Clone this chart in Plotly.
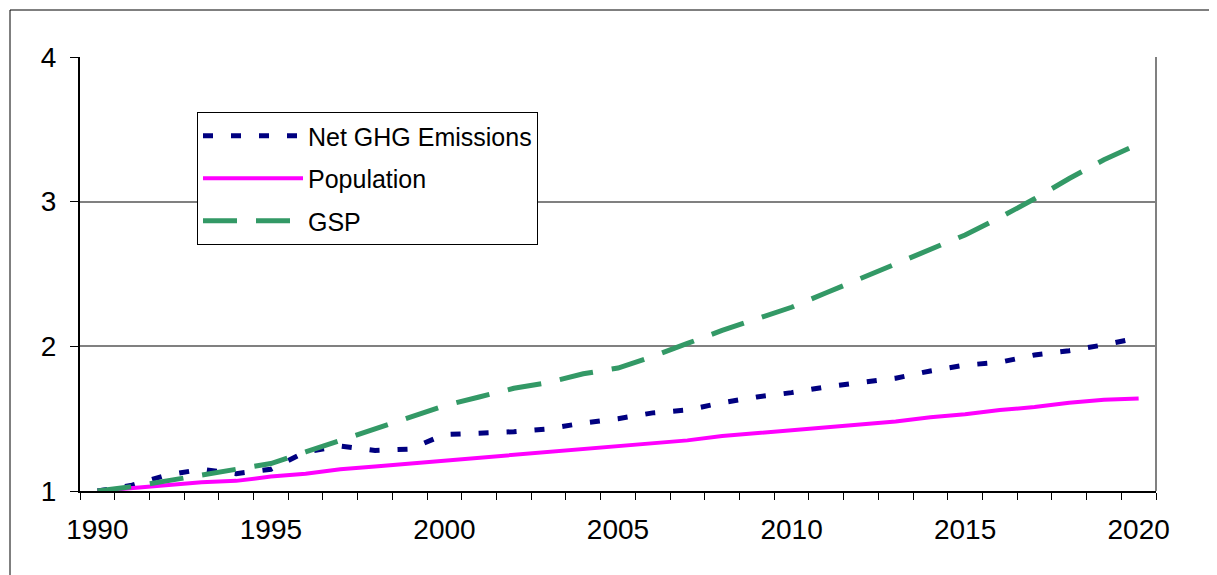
import plotly.graph_objects as go

years = list(range(1990, 2021))

net_ghg = [1.00, 1.04, 1.11, 1.15, 1.12, 1.15, 1.27, 1.31, 1.28, 1.29,
           1.39, 1.40, 1.41, 1.43, 1.47, 1.50, 1.54, 1.56, 1.61, 1.65,
           1.68, 1.72, 1.75, 1.78, 1.83, 1.87, 1.89, 1.94, 1.97, 2.01, 2.06]

population = [1.00, 1.02, 1.04, 1.06, 1.07, 1.10, 1.12, 1.15, 1.17, 1.19,
              1.21, 1.23, 1.25, 1.27, 1.29, 1.31, 1.33, 1.35, 1.38, 1.40,
              1.42, 1.44, 1.46, 1.48, 1.51, 1.53, 1.56, 1.58, 1.61, 1.63, 1.64]

gsp = [1.00, 1.03, 1.07, 1.11, 1.15, 1.19, 1.27, 1.35, 1.43, 1.51,
       1.59, 1.65, 1.71, 1.75, 1.81, 1.85, 1.93, 2.02, 2.11, 2.19,
       2.27, 2.37, 2.47, 2.57, 2.67, 2.77, 2.89, 3.02, 3.16, 3.29, 3.40]

x_tick_vals = [1990, 1995, 2000, 2005, 2010, 2015, 2020]
x_tick_text = ["1990", "1995", "2000", "2005", "2010", "2015", "2020"]
y_tick_vals = [1, 2, 3, 4]
y_tick_text = ["1", "2", "3", "4"]

FONT = "Arial, Liberation Sans, sans-serif"

fig = go.Figure()
fig.add_trace(go.Scatter(x=years, y=net_ghg, name="Net GHG Emissions", mode="lines",
                         legendgroup="a",
                         line=dict(color="#000080", width=5, dash="10px,18px")))
fig.add_trace(go.Scatter(x=years, y=population, name="Population", mode="lines",
                         legendgroup="b",
                         line=dict(color="#FF00FF", width=4)))
fig.add_trace(go.Scatter(x=years, y=gsp, name="GSP", mode="lines",
                         legendgroup="c",
                         line=dict(color="#339966", width=5, dash="34px,19px")))

# page has an 8px body margin; target plot area in page pixels: x 80..1156, y 57..491
OFF = 8
W, H = 1217 - OFF, 575 - OFF
L, T = 80 - OFF, 57 - OFF
R = (OFF + W) - 1156
B = (OFF + H) - 491
pw, ph = W - L - R, H - T - B

def px_x(p):
    return (p - OFF - L) / pw

def px_y(p):
    return (OFF + H - B - p) / ph

shapes = [
    # right border of plot area (gray)
    dict(type="line", xref="paper", yref="paper", x0=1, x1=1, y0=0, y1=1,
         line=dict(color="#808080", width=2)),
    # outer chart frame
    dict(type="rect", xref="paper", yref="paper",
         x0=px_x(10), x1=px_x(1230), y0=px_y(10), y1=px_y(600),
         line=dict(color="black", width=1), layer="below"),
]

fig.update_layout(
    width=W, height=H,
    margin=dict(l=L, r=R, t=T, b=B),
    paper_bgcolor="white", plot_bgcolor="white",
    font=dict(family=FONT, color="black", size=25),
    shapes=shapes,
    showlegend=True,
    legend=dict(
        x=px_x(197), y=px_y(112), xanchor="left", yanchor="top",
        bgcolor="white", bordercolor="black", borderwidth=1,
        font=dict(family=FONT, size=25, color="black"),
        tracegroupgap=7, itemwidth=100,
    ),
    xaxis=dict(
        range=[1989.5, 2020.5], tickmode="array",
        tickvals=x_tick_vals, ticktext=x_tick_text,
        ticks="", showgrid=False, zeroline=False,
        showline=True, linecolor="black", linewidth=2,
        tickfont=dict(family=FONT, size=28, color="black"),
        ticklabelstandoff=12,
        minor=dict(tick0=1989.5, dtick=1, ticks="outside", ticklen=7,
                   tickcolor="black", tickwidth=1, showgrid=False),
    ),
    yaxis=dict(
        range=[1, 4], tickmode="array",
        tickvals=y_tick_vals, ticktext=y_tick_text,
        ticks="outside", ticklen=8, tickcolor="black", tickwidth=1,
        showgrid=True, gridcolor="#808080", gridwidth=1.5,
        zeroline=False,
        showline=True, linecolor="black", linewidth=2,
        tickfont=dict(family=FONT, size=28, color="black"),
        ticklabelstandoff=8,
    ),
)

fig.write_html("out.html")
